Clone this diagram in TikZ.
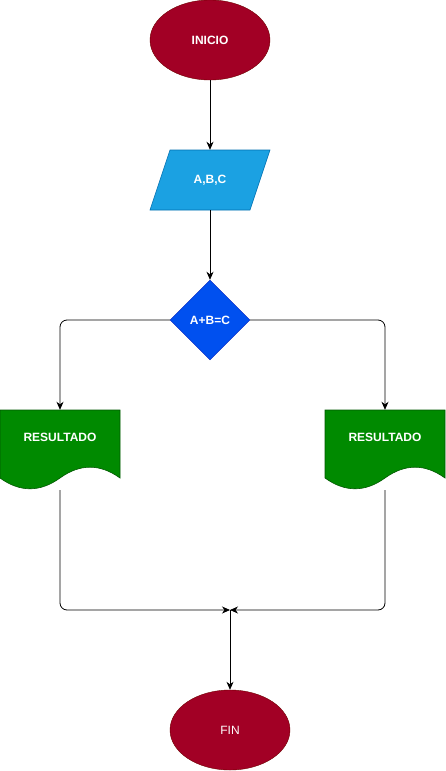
\documentclass[tikz,border=0pt]{standalone}
\usepackage{fontspec}
\setmainfont{Liberation Sans}
\usetikzlibrary{shapes.geometric,arrows.meta}
\definecolor{termfill}{HTML}{A20025}
\definecolor{termline}{HTML}{6F0000}
\definecolor{iofill}{HTML}{1BA1E2}
\definecolor{ioline}{HTML}{006EAF}
\definecolor{decfill}{HTML}{0050EF}
\definecolor{decline}{HTML}{001DBC}
\definecolor{docfill}{HTML}{008A00}
\definecolor{docline}{HTML}{005700}
\tikzset{
  every node/.style={font=\fontsize{12}{14}\selectfont, text=white},
  term/.style={ellipse, fill=termfill, draw=termline, minimum width=120pt, minimum height=80pt, inner sep=0pt},
  dec/.style={diamond, fill=decfill, draw=decline, minimum width=80pt, minimum height=80pt, inner sep=0pt},
  box/.style={rectangle, minimum width=120pt, minimum height=60pt, inner sep=0pt},
  docbox/.style={rectangle, minimum width=120pt, minimum height=80pt, inner sep=0pt},
  conn/.style={draw=black, line width=0.8pt, rounded corners=7pt, -{Stealth[length=8pt,width=7pt,inset=2.5pt]}},
}
\begin{document}
\begin{tikzpicture}[x=1pt,y=-1pt]
\useasboundingbox (0,0) rectangle (445,771);
% INICIO
\node[term, font=\fontsize{12}{14}\selectfont\bfseries] (ini) at (210,40) {INICIO};
% A,B,C parallelogram
\node[box] (abc) at (210,180) {};
\filldraw[fill=iofill, draw=ioline, line width=0.6pt] (170,150) -- (270,150) -- (250,210) -- (150,210) -- cycle;
\node[font=\fontsize{12}{14}\selectfont\bfseries] (abct) at (210,180) {A,B,C};
% decision
\node[dec, font=\fontsize{12}{14}\selectfont\bfseries] (dec) at (210,320) {A+B=C};
% documents
\node[docbox] (d1) at (60,450) {};
\filldraw[fill=docfill, draw=docline, line width=0.6pt] (0,410) -- (120,410) -- (120,478) .. controls (100,463.6) and (80,463.6) .. (60,478) .. controls (40,492.4) and (20,492.4) .. (0,478) -- cycle;
\node[font=\fontsize{12}{14}\selectfont\bfseries] (d1t) at (60,437) {RESULTADO};
\node[docbox] (d2) at (385,450) {};
\filldraw[fill=docfill, draw=docline, line width=0.6pt] (325,410) -- (445,410) -- (445,478) .. controls (425,463.6) and (405,463.6) .. (385,478) .. controls (365,492.4) and (345,492.4) .. (325,478) -- cycle;
\node[font=\fontsize{12}{14}\selectfont\bfseries] (d2t) at (385,437) {RESULTADO};
% FIN
\node[term] (fin) at (230,730) {FIN};
\coordinate (join) at (230,610);
% connectors
\draw[conn] (ini.south) -- (abc.north);
\draw[conn] (abc.south) -- (dec.north);
\draw[conn] (dec.west) -| (d1.north);
\draw[conn] (dec.east) -| (d2.north);
\draw[conn] (d1.south) |- (join);
\draw[conn] (d2.south) |- (join);
\draw[conn] (join) -- (fin.north);
\end{tikzpicture}
\end{document}
